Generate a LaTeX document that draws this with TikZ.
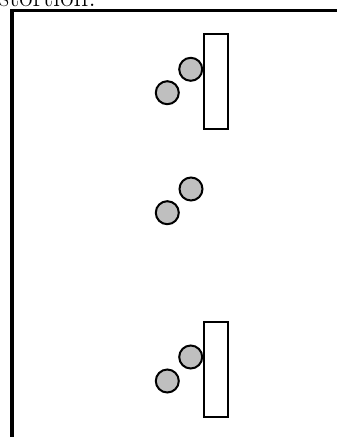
\documentclass[tikz,border=0pt]{standalone}
\begin{document}
\begin{tikzpicture}[x=1pt,y=-1pt,
  ball/.style={circle,draw=black,fill=black!25,line width=2pt,minimum size=23pt,inner sep=0pt},
  wall/.style={draw=black,fill=white,line width=2pt,inner sep=0pt,minimum width=24pt,minimum height=95pt},
  frameline/.style={line width=3.2pt}]
\useasboundingbox (0,0) rectangle (337,437);
\node[anchor=base east,inner sep=0pt,font=\fontsize{29}{33}\selectfont] (cap) at (96,6) {distortion.};
\draw[frameline] (12,440) -- (12,10.5) -- (340,10.5);
% top group
\node[wall] (w1) at (215.7,81) {};
\node[ball] (a1) at (190.7,69.3) {};
\node[ball] (b1) at (167.3,92.7) {};
% middle group
\node[ball] (a2) at (191,189) {};
\node[ball] (b2) at (167.3,212.7) {};
% bottom group
\node[wall] (w3) at (215.7,369.2) {};
\node[ball] (a3) at (190.7,357) {};
\node[ball] (b3) at (167.3,381) {};
\end{tikzpicture}
\end{document}
